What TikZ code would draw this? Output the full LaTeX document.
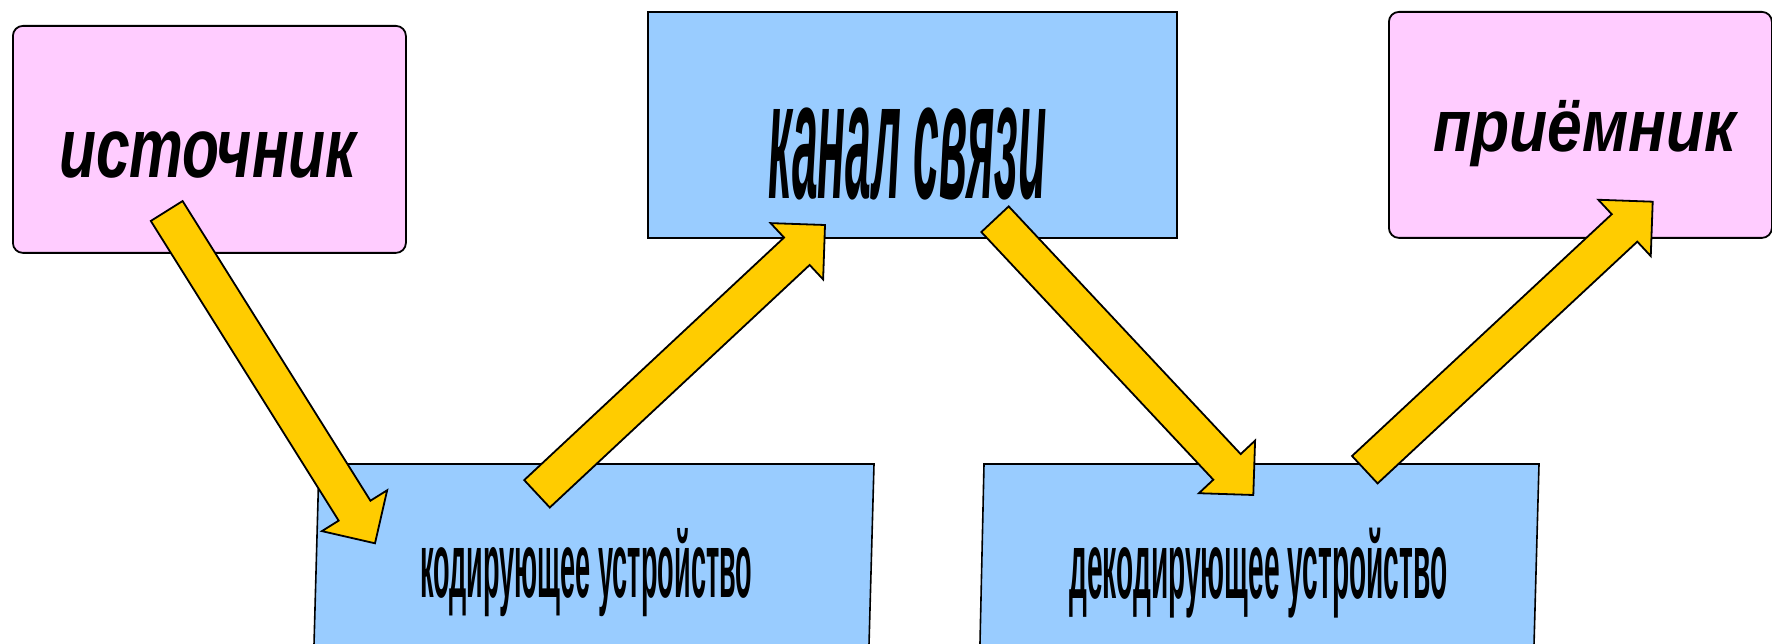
\documentclass[tikz,border=0pt]{standalone}
\usepackage{fontspec}
\setmainfont{Liberation Sans}
\usetikzlibrary{calc}
\definecolor{cPink}{HTML}{FFCCFF}
\definecolor{cBlue}{HTML}{99CCFF}
\definecolor{cYellow}{HTML}{FFCC00}
\newcommand\fittext[3]{\resizebox{#1pt}{#2pt}{\smash{#3}\rule{0pt}{\fontcharht\font`x}}}
\tikzset{
  pinkbox/.style={draw=black, line width=1.8pt, fill=cPink, rounded corners=10pt, inner sep=0pt, anchor=north west},
  bluebox/.style={draw=black, line width=1.8pt, fill=cBlue, inner sep=0pt, anchor=north west},
  bluequad/.style={draw=black, line width=1.6pt, fill=cBlue},
  arrowbody/.style={draw=black, line width=1.8pt, fill=cYellow, line join=miter},
  label/.style={anchor=base west, inner sep=0pt, text=black},
}
\newcommand\blockarrow[2]{%
  \filldraw[arrowbody] let \p1=(#1), \p2=(#2), \n1={atan2(\y2-\y1,\x2-\x1)} in
    ($(#1)+({\n1+90}:18.75pt)$) --
    ($(#2)+({\n1+180}:38.5pt)+({\n1+90}:18.75pt)$) --
    ($(#2)+({\n1+180}:38.5pt)+({\n1+90}:38.5pt)$) --
    (#2) --
    ($(#2)+({\n1+180}:38.5pt)+({\n1-90}:38.5pt)$) --
    ($(#2)+({\n1+180}:38.5pt)+({\n1-90}:18.75pt)$) --
    ($(#1)+({\n1-90}:18.75pt)$) -- cycle;}
\begin{document}
\begin{tikzpicture}[x=1pt,y=-1pt]
\useasboundingbox (0,0) rectangle (1772,644);
\clip (0,0) rectangle (1772,644);
\fill[white] (0,0) rectangle (1772,644);

% boxes
\node[pinkbox, minimum width=393pt, minimum height=227pt] (src) at (12,25) {};
\node[bluebox, minimum width=529pt, minimum height=226pt] (chan) at (647,11) {};
\node[pinkbox, minimum width=383pt, minimum height=226pt] (recv) at (1388,11) {};

\coordinate (e1) at (319,464);
\coordinate (e2) at (874,464);
\coordinate (e3) at (868.8,652);
\coordinate (e4) at (313.8,652);
\draw[bluequad] (e1) -- (e2) -- (e3) -- (e4) -- cycle;

\coordinate (d1) at (984,464);
\coordinate (d2) at (1539,464);
\coordinate (d3) at (1533.8,652);
\coordinate (d4) at (979.8,652);
\draw[bluequad] (d1) -- (d2) -- (d3) -- (d4) -- cycle;

% labels
\node[label, font=\bfseries\itshape] (srcT) at (59,178) {\fittext{297}{45}{источник}};
\node[label, font=\bfseries\itshape] (chanT) at (768,199) {\fittext{278}{89}{канал связи}};
\node[label, font=\bfseries\itshape] (recvT) at (1433,152) {\fittext{303}{39}{приёмник}};
\node[label, font=\bfseries] (encT) at (420,597) {\fittext{332}{49}{кодирующее устройство}};
\node[label, font=\bfseries] (decT) at (1069,598) {\fittext{378}{50}{декодирующее устройство}};

% arrow end points
\coordinate (a1s) at (166.7,211);
\coordinate (a1e) at (375,543.3);
\coordinate (a2s) at (537,493.8);
\coordinate (a2e) at (825,225);
\coordinate (a3s) at (995,219.2);
\coordinate (a3e) at (1253.3,495);
\coordinate (a4s) at (1364.8,469.7);
\coordinate (a4e) at (1652.7,201.7);

\blockarrow{a1s}{a1e}
\blockarrow{a2s}{a2e}
\blockarrow{a3s}{a3e}
\blockarrow{a4s}{a4e}
\end{tikzpicture}
\end{document}
